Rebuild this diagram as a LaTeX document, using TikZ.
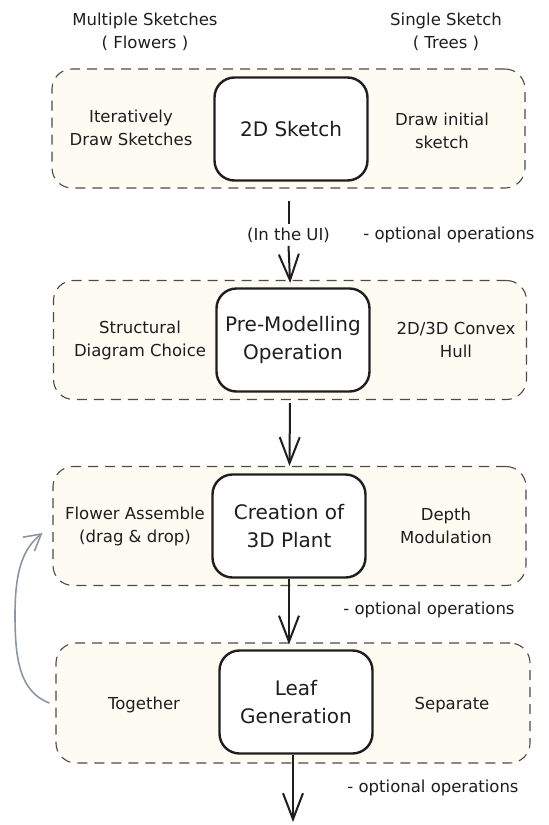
\documentclass[tikz,border=0pt]{standalone}
\usepackage{fontspec}
\setmainfont{DejaVu Sans}
\usetikzlibrary{arrows.meta}
\definecolor{groupfill}{HTML}{FDFBF2}
\definecolor{ink}{HTML}{1E1E1E}
\definecolor{backline}{HTML}{8A96A6}

\begin{document}
\begin{tikzpicture}[x=1pt,y=-1pt,
    group/.style={draw=ink!80, line width=1.1pt, dash pattern=on 10pt off 7pt,
        fill=groupfill, rounded corners=20pt, minimum width=473pt,
        minimum height=119pt, inner sep=0pt},
    stage/.style={draw=ink, line width=2.4pt, fill=white, rounded corners=20pt,
        minimum width=153pt, minimum height=103pt, inner sep=0pt, align=center,
        font=\fontsize{20}{28}\selectfont, text=ink},
    side/.style={align=center, font=\fontsize{16.5}{23}\selectfont, text=ink},
    flow/.style={draw=ink, line width=2pt, -{Straight Barb[length=26pt,width=20pt]}},
    stem/.style={draw=ink, line width=2pt},
    back/.style={draw=backline, line width=1.6pt, -{Straight Barb[length=16pt,width=18pt]}}]
    \useasboundingbox (0,0) rectangle (549,825);

    % Groups
    \node[group] (g1) at (288.5,128.5) {};
    \node[group] (g2) at (290,340) {};
    \node[group] (g3) at (289.5,526) {};
    \node[group, minimum width=474pt, minimum height=120pt] (g4) at (293,703) {};

    % Stages
    \node[stage] (sketch) at (291,129) {2D Sketch};
    \node[stage] (premodel) at (293,340) {Pre-Modelling\\Operation};
    \node[stage] (plant) at (289,526) {Creation of\\3D Plant};
    \node[stage] (leaf) at (296,702) {Leaf\\Generation};

    % Column labels
    \node[side] (multi) at (145,32) {Multiple Sketches\\( Flowers )};
    \node[side] (single) at (446,32) {Single Sketch\\( Trees )};

    % Choices in each group
    \node[side] (iterdraw) at (131,128) {Iteratively\\Draw Sketches};
    \node[side] (initdraw) at (442,131) {Draw initial\\sketch};
    \node[side] (structdiag) at (140,340) {Structural\\Diagram Choice};
    \node[side] (hull) at (456,340) {2D/3D Convex\\Hull};
    \node[side] (assemble) at (135,526) {Flower Assemble\\(drag \& drop)};
    \node[side] (depth) at (446,526) {Depth\\Modulation};
    \node[side] (together) at (144,705) {Together};
    \node[side] (separate) at (452,705) {Separate};

    % Optional notes
    \node[side] (ui) at (288.5,235) {(In the UI)};
    \node[side] (opt1) at (449,235) {- optional operations};
    \node[side] (opt2) at (429,610) {- optional operations};
    \node[side] (opt3) at (433,788) {- optional operations};

    % Arrows
    \draw[stem, shorten <=12pt] (g1.south) -- (ui.north);
    \draw[flow, shorten >=-3pt] (ui.south) -- (g2.north);
    \draw[flow, shorten <=3pt] (g2.south) -- (g3.north);
    \draw[flow, shorten >=-2pt] (plant.south) -- (plant.south |- g4.north);
    \coordinate (exit) at (293,822);
    \draw[flow] (leaf.south -| exit) -- (exit);

    % Back to assembling
    \draw[back] ([xshift=-6pt]g4.west) .. controls (20,692) and (15,660) .. (15,615)
        .. controls (15,568) and (24,548) .. ([xshift=-10pt,yshift=-7pt]g3.west);
\end{tikzpicture}
\end{document}
